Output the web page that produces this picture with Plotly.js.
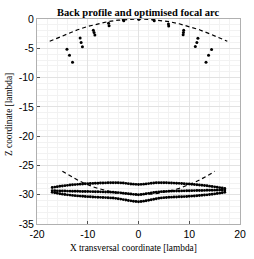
<!DOCTYPE html>
<html>
<head>
<meta charset="utf-8">
<script src="https://cdn.plot.ly/plotly-3.0.1.min.js"></script>
<style>html,body{margin:0;padding:0;background:#fff;}#chart{width:254px;height:259px;}</style>
</head>
<body>
<div id="chart"></div>
<script>
// Optimised focal arc (top dashed)
const arcTopX = [-17.5,-16,-15,-14,-12,-10,-8,-6,-4,-2,0,2,4,6,8,10,12,14,15,16,17.5];
const arcTopY = [-3.8,-3.25,-2.92,-2.52,-1.84,-1.27,-0.81,-0.45,-0.2,-0.05,0,-0.05,-0.2,-0.45,-0.81,-1.27,-1.84,-2.52,-2.92,-3.25,-3.8];

// Focal points near the arc (top dots)
const focX = [-14.1,-13.6,-13.0,-11.5,-11.3,-11.05,-8.9,-8.75,-8.6,-5.9,-5.8,-3.0,-2.9,0,0.1,3.0,3.1,5.9,5.95,8.9,8.85,8.8,11.7,11.5,11.2,14.4,13.8,13.3];
const focY = [-5.15,-6.2,-7.4,-3.26,-4.0,-4.75,-1.9,-2.3,-2.75,-0.74,-1.15,-0.12,-0.3,0,-0.05,-0.1,-0.3,-0.86,-1.2,-1.9,-2.3,-2.7,-3.3,-4.0,-4.7,-5.2,-6.2,-7.4];

// Back profile arc (bottom dashed)
const arcBotX = [-15,-14,-13,-12,-11,-10,-9,-8,-7,-6,-5,-4,-3,-2,-1,0,1,2,3,4,5,6,7,8,9,10,11,12,13,14,15];
const arcBotY = [-26,-26.55,-27.05,-27.5,-27.92,-28.3,-28.63,-28.92,-29.18,-29.4,-29.58,-29.73,-29.85,-29.93,-29.98,-30,-29.98,-29.93,-29.85,-29.73,-29.58,-29.4,-29.18,-28.92,-28.63,-28.3,-27.92,-27.5,-27.05,-26.55,-26];

// Back profile sample positions
const profX = [-17,-16.5,-16,-15.5,-15,-14.5,-14,-13.5,-13,-12.5,-12,-11.5,-11,-10.5,-10,-9.5,-9,-8.5,-8,-7.5,-7,-6.5,-6,-5.5,-5,-4.5,-4,-3.5,-3,-2.5,-2,-1.5,-1,-0.5,0,0.5,1,1.5,2,2.5,3,3.5,4,4.5,5,5.5,6,6.5,7,7.5,8,8.5,9,9.5,10,10.5,11,11.5,12,12.5,13,13.5,14,14.5,15,15.5,16,16.5,17];
const profUpper = [-28.78,-28.7,-28.63,-28.56,-28.5,-28.45,-28.4,-28.35,-28.31,-28.27,-28.23,-28.2,-28.17,-28.14,-28.11,-28.09,-28.07,-28.05,-28.03,-28.01,-27.99,-27.98,-27.97,-27.96,-27.95,-27.95,-27.96,-27.98,-28.01,-28.06,-28.11,-28.16,-28.2,-28.23,-28.25,-28.23,-28.2,-28.15,-28.1,-28.05,-28.0,-27.97,-27.95,-27.95,-27.96,-27.97,-27.98,-28.0,-28.02,-28.04,-28.06,-28.09,-28.12,-28.15,-28.18,-28.21,-28.25,-28.29,-28.33,-28.38,-28.43,-28.48,-28.54,-28.6,-28.66,-28.72,-28.79,-28.86,-28.92];
const profMiddle = [-29.32,-29.33,-29.34,-29.35,-29.36,-29.37,-29.38,-29.39,-29.4,-29.41,-29.42,-29.43,-29.44,-29.45,-29.46,-29.47,-29.48,-29.49,-29.5,-29.51,-29.52,-29.53,-29.54,-29.56,-29.58,-29.61,-29.64,-29.68,-29.73,-29.78,-29.84,-29.89,-29.94,-29.97,-30.0,-29.96,-29.9,-29.84,-29.77,-29.7,-29.63,-29.57,-29.52,-29.48,-29.45,-29.43,-29.41,-29.39,-29.38,-29.37,-29.36,-29.35,-29.34,-29.33,-29.32,-29.31,-29.3,-29.29,-29.28,-29.27,-29.26,-29.25,-29.24,-29.23,-29.22,-29.22,-29.21,-29.21,-29.2];
const profLower = [-29.6,-29.68,-29.76,-29.84,-29.9,-29.96,-30.02,-30.07,-30.12,-30.16,-30.2,-30.24,-30.27,-30.3,-30.33,-30.36,-30.39,-30.41,-30.43,-30.45,-30.47,-30.49,-30.51,-30.54,-30.57,-30.62,-30.68,-30.75,-30.83,-30.9,-30.98,-31.05,-31.12,-31.17,-31.2,-31.16,-31.1,-31.03,-30.95,-30.86,-30.77,-30.68,-30.6,-30.54,-30.5,-30.47,-30.44,-30.42,-30.4,-30.38,-30.36,-30.34,-30.32,-30.3,-30.27,-30.24,-30.21,-30.18,-30.14,-30.1,-30.06,-30.02,-29.97,-29.92,-29.86,-29.8,-29.73,-29.66,-29.58];

const xTicks = [-20,-10,0,10,20];
const yTicks = [-35,-30,-25,-20,-15,-10,-5,0];
const titleText = 'Back profile and optimised focal arc';
const xLabel = 'X transversal coordinate [lambda]';
const yLabel = 'Z coordinate [lambda]';

const dot = {color: '#000', size: 2.9};
const data = [
  {x: arcTopX, y: arcTopY, mode: 'lines', line: {color: '#000', width: 1.2, dash: '4px,3px'}},
  {x: focX, y: focY, mode: 'markers', marker: {color: '#000', size: 3}},
  {x: arcBotX, y: arcBotY, mode: 'lines', line: {color: '#000', width: 1.2, dash: '4px,3px'}},
  {x: profX, y: profUpper, mode: 'markers', marker: dot},
  {x: profX, y: profMiddle, mode: 'markers', marker: dot},
  {x: profX, y: profLower, mode: 'markers', marker: dot}
];

const serif = 'Liberation Serif';
const tickFont = {family: 'Liberation Sans', size: 10.5, color: '#000'};
const labelFont = {family: serif, size: 9.3, color: '#000'};
const axBase = {
  showline: true, mirror: true, linecolor: '#b0b0b0', linewidth: 1,
  ticks: 'inside', ticklen: 3, tickcolor: '#505050', tickwidth: 1,
  showgrid: true, gridcolor: '#e2e2e2', gridwidth: 1,
  zeroline: false, tickfont: tickFont, fixedrange: true
};

const layout = {
  width: 254, height: 259,
  margin: {l: 37, r: 14, t: 19, b: 35},
  paper_bgcolor: '#fff', plot_bgcolor: '#fff',
  showlegend: false,
  title: {text: titleText, font: {family: serif, size: 10.5, color: '#000', weight: 'bold'},
          x: 0.2244, xref: 'container', xanchor: 'left', y: 0.952, yref: 'container', yanchor: 'middle'},
  xaxis: Object.assign({}, axBase, {
    range: [-20, 20], tickmode: 'array', tickvals: xTicks, ticktext: xTicks.map(String),
    minor: {dtick: 2, tick0: 0, showgrid: true, gridcolor: '#f2f2f2', ticks: ''}
  }),
  yaxis: Object.assign({}, axBase, {
    range: [-35, 0], tickmode: 'array', tickvals: yTicks, ticktext: yTicks.map(String),
    minor: {dtick: 1, tick0: 0, showgrid: true, gridcolor: '#f2f2f2', ticks: ''}
  }),
  annotations: [
    {text: xLabel, xref: 'paper', yref: 'paper', x: 0.1527, y: -0.117, xanchor: 'left', yanchor: 'middle', showarrow: false, font: labelFont},
    {text: yLabel, xref: 'paper', yref: 'paper', x: -0.1355, y: 0.322, xanchor: 'center', yanchor: 'bottom', textangle: -90, showarrow: false, font: labelFont}
  ]
};

Plotly.newPlot('chart', data, layout, {staticPlot: true, displayModeBar: false});
</script>
</body>
</html>
